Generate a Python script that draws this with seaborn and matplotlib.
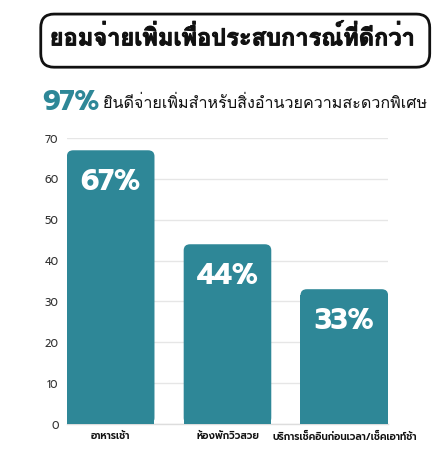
import matplotlib
matplotlib.use("Agg")
import matplotlib.pyplot as plt
import matplotlib.patheffects as pe
from matplotlib.patches import FancyBboxPatch
import seaborn as sns
import pandas as pd

# ข้อมูล
categories = ["อาหารเช้า", "ห้องพักวิวสวย", "บริการเช็คอินก่อนเวลา/เช็คเอาท์ช้า"]
values = [67, 44, 33]
labels = ["67%", "44%", "33%"]

TITLE = "ยอมจ่ายเพิ่มเพื่อประสบการณ์ที่ดีกว่า"
HIGHLIGHT = "97%"
SUBTITLE = "ยินดีจ่ายเพิ่มสำหรับสิ่งอำนวยความสะดวกพิเศษ"

TEAL = "#2e8797"
# Loma วางวรรณยุกต์ซ้อนสระได้ถูกต้องโดยไม่ต้อง shaping
THAI_FONT = ["Loma", "DejaVu Sans"]

sns.set_theme(style="white")
plt.rcParams["font.family"] = ["Prompt", "DejaVu Sans"]

df = pd.DataFrame({"cat": categories, "val": values})

fig = plt.figure(figsize=(4.43, 4.54), dpi=100)
ax = fig.add_axes([0.151, 0.066, 0.725, 0.630])

sns.barplot(data=df, x="cat", y="val", color=TEAL, saturation=1, width=0.75, ax=ax, zorder=3)

# มุมโค้งด้านบนของแท่ง
r_x = 0.055
aspect = 27
for p, lab in zip(list(ax.patches), labels):
    x, y0, w, h = p.get_x(), p.get_y(), p.get_width(), p.get_height()
    p.set_height(h - r_x * aspect)
    p.set_edgecolor("none")
    rb = FancyBboxPatch((x, y0), w, h, boxstyle=f"round,pad=0,rounding_size={r_x}",
                        mutation_aspect=aspect, facecolor=TEAL, edgecolor="none", zorder=3)
    ax.add_patch(rb)
    ax.text(x + w / 2, h - 8, lab, ha="center", va="center", color="white",
            fontsize=21, fontweight="bold", zorder=4)

ax.set_xlim(-0.375, 2.375)
ax.set_ylim(0, 70)
ax.set_yticks(range(0, 71, 10))
ax.yaxis.grid(True, color="#e6e6e6", linewidth=1, zorder=0)
ax.set_axisbelow(True)
ax.set_xlabel("")
ax.set_ylabel("")
ax.tick_params(axis="both", length=0, pad=6)
ax.tick_params(axis="y", labelsize=8, labelcolor="#333333")
ax.tick_params(axis="x", labelsize=7.2, labelcolor="#111111")
for t in ax.get_xticklabels():
    t.set_fontweight("semibold")
for s in ["top", "right", "left"]:
    ax.spines[s].set_visible(False)
ax.spines["bottom"].set_color("#dddddd")
ax.spines["bottom"].set_linewidth(1)

# กล่องหัวเรื่อง
box = FancyBboxPatch((0.092, 0.852), 0.878, 0.117, boxstyle="round,pad=0,rounding_size=0.03",
                     transform=fig.transFigure, facecolor="white", edgecolor="#111111",
                     linewidth=2, figure=fig)
fig.patches.append(box)
fig.text(0.524, 0.900, TITLE, ha="center", va="baseline", fontsize=17,
         family=THAI_FONT, fontweight="bold", color="#111111",
         path_effects=[pe.withStroke(linewidth=0.7, foreground="#111111")])

fig.text(0.095, 0.758, HIGHLIGHT, ha="left", va="baseline", fontsize=20,
         fontweight="bold", color=TEAL)
fig.text(0.233, 0.762, SUBTITLE, ha="left", va="baseline", fontsize=11.6,
         family=THAI_FONT, color="#111111")

fig.savefig("out.png", dpi=100)
